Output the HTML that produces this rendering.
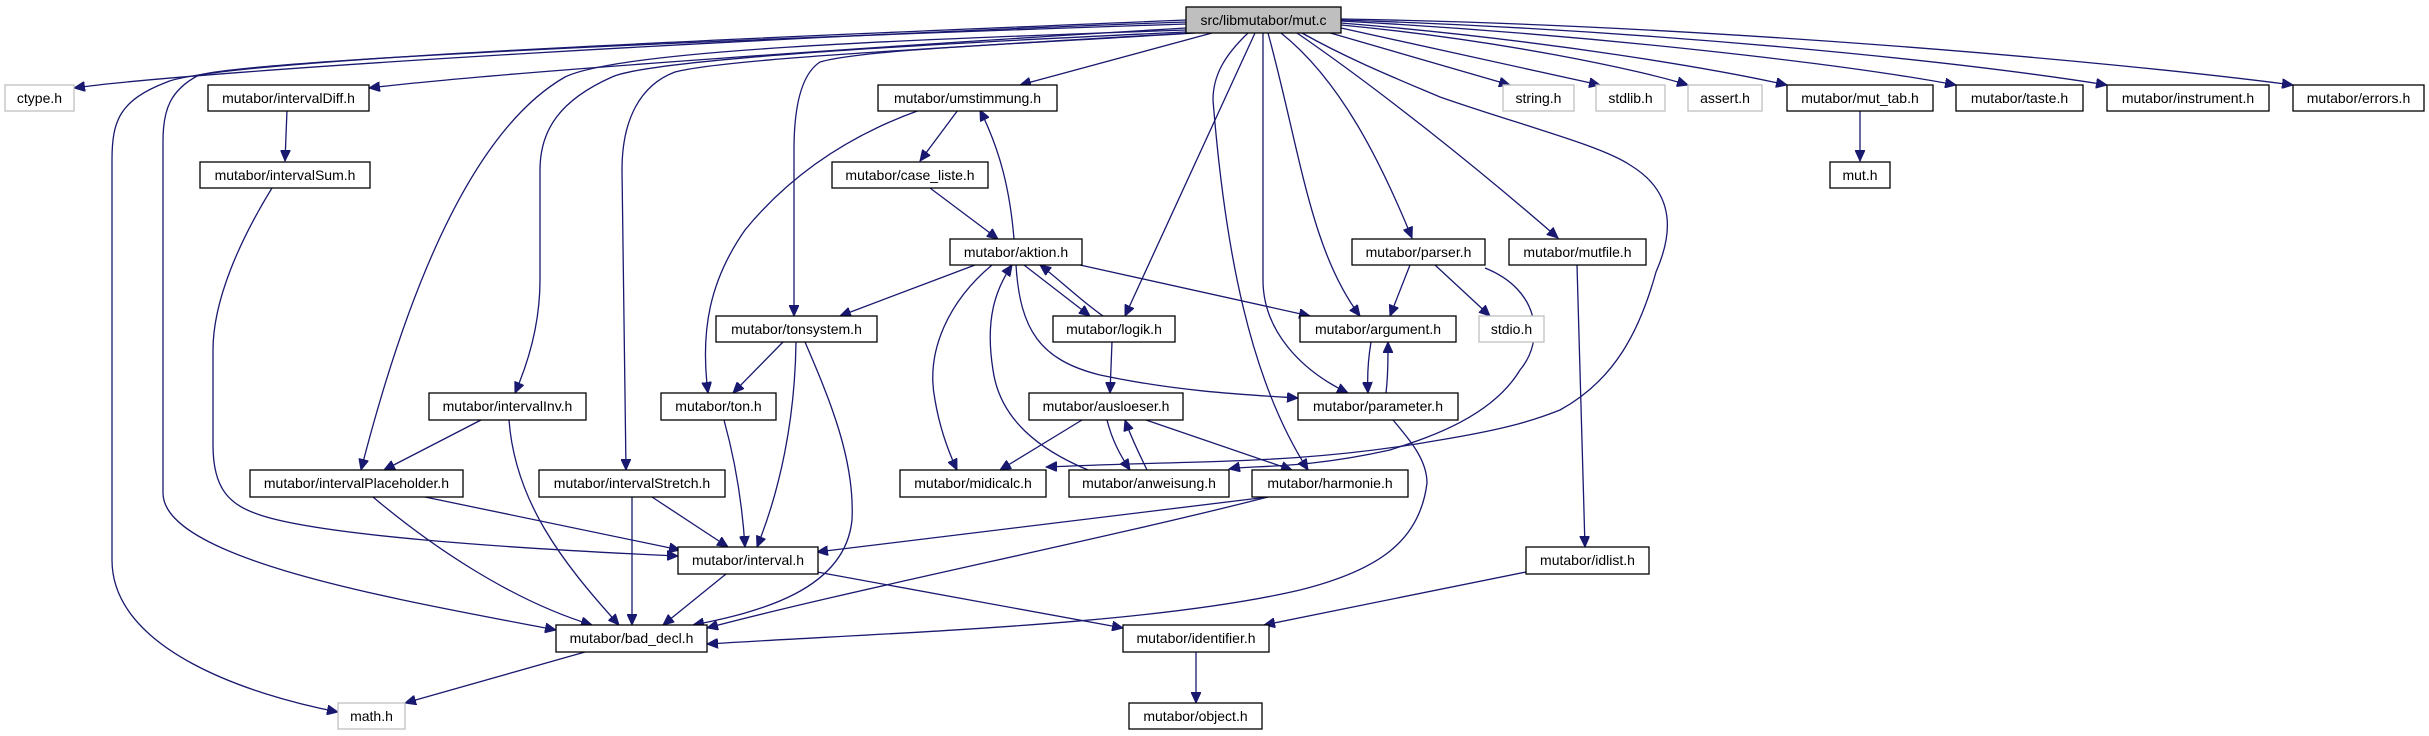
<!DOCTYPE html>
<html><head><meta charset="utf-8"><style>
html,body{margin:0;padding:0;background:#fff;}
svg{display:block;}
text{font-family:"Liberation Sans",sans-serif;font-size:14px;fill:#000;}
.e{fill:none;stroke:#191970;stroke-width:1.3;}
.n{fill:#fff;stroke:#000;stroke-width:1.3;}
.g{fill:#fff;stroke:#bfbfbf;stroke-width:1.3;}
</style></head><body>
<svg width="2429" height="736" viewBox="0 0 2429 736" xmlns="http://www.w3.org/2000/svg">
<defs><marker id="a" markerWidth="12" markerHeight="10" refX="11" refY="5" orient="auto" markerUnits="userSpaceOnUse"><path d="M0,0 L11,5 L0,10 z" fill="#191970" stroke="#191970"/></marker></defs>
<g marker-end="url(#a)">
<path class="e" d="M1186,22 C800,35 200,70 74,88"/>
<path class="e" d="M1186,28 C900,45 500,72 369,88"/>
<path class="e" d="M1186,20 C700,40 220,60 167,82 C120,100 112,120 112,160 L112,560 C112,650 250,695 338,712"/>
<path class="e" d="M1186,24 C700,40 260,60 199,75 C170,90 163,110 163,141 L163,493 C163,560 400,600 556,630"/>
<path class="e" d="M1186,30 C900,40 620,50 565,77 C490,120 420,240 361,470"/>
<path class="e" d="M1186,32 C900,45 650,60 612,77 C560,100 540,130 540,170 L540,280 C540,330 525,370 515,393"/>
<path class="e" d="M1190,33 C900,50 720,60 675,72 C640,85 622,120 622,170 L626,470"/>
<path class="e" d="M1195,33 C1000,45 860,50 820,62 C800,75 794,110 794,150 L794,316"/>
<path class="e" d="M1212,33 L1020,85"/>
<path class="e" d="M1255,33 L1125,316"/>
<path class="e" d="M1248,33 C1225,55 1213,75 1213,100 C1225,250 1250,380 1308,470"/>
<path class="e" d="M1263,33 L1263,280 C1263,330 1300,370 1348,393"/>
<path class="e" d="M1268,33 C1300,150 1310,250 1360,316"/>
<path class="e" d="M1281,33 C1340,80 1380,160 1412,238"/>
<path class="e" d="M1297,33 C1380,90 1480,170 1558,238"/>
<path class="e" d="M1302,33 C1350,60 1400,80 1440,97 C1520,125 1600,145 1630,165 C1680,195 1670,240 1656,272 C1640,330 1615,380 1560,410 C1530,422 1500,430 1440,440 C1300,465 1200,460 1046,467"/>
<path class="e" d="M1485,268 C1540,290 1545,340 1520,370 C1490,420 1420,440 1390,450 C1300,470 1250,465 1229,469"/>
<path class="e" d="M1320,30 L1510,85"/>
<path class="e" d="M1341,28 L1600,85"/>
<path class="e" d="M1341,25 C1500,40 1640,70 1688,85"/>
<path class="e" d="M1341,23 C1550,40 1720,70 1787,85"/>
<path class="e" d="M1341,21 C1600,35 1850,65 1956,85"/>
<path class="e" d="M1341,20 C1650,30 1950,60 2107,85"/>
<path class="e" d="M1341,19 C1700,25 2100,60 2293,85"/>
<path class="e" d="M287,110 L285,161"/>
<path class="e" d="M272,188 C240,240 213,300 213,350 L213,445 C213,490 230,505 260,515 C320,535 500,548 678,556"/>
<path class="e" d="M481,420 L384,470"/>
<path class="e" d="M509,420 C515,500 560,560 619,625"/>
<path class="e" d="M373,497 C430,545 510,600 592,625"/>
<path class="e" d="M425,497 L680,550"/>
<path class="e" d="M632,497 L632,625"/>
<path class="e" d="M652,497 L728,547"/>
<path class="e" d="M724,420 C735,460 742,500 745,547"/>
<path class="e" d="M783,342 L733,393"/>
<path class="e" d="M796,342 C795,420 780,490 757,547"/>
<path class="e" d="M805,342 C830,400 855,460 852,520 C845,590 760,612 693,625"/>
<path class="e" d="M726,574 L663,625"/>
<path class="e" d="M817,572 L1123,628"/>
<path class="e" d="M585,652 L405,703"/>
<path class="e" d="M920,110 C850,135 790,175 745,230 C710,280 700,330 708,393"/>
<path class="e" d="M958,110 L920,161"/>
<path class="e" d="M930,188 L998,239"/>
<path class="e" d="M1014,239 C1010,190 1000,150 980,110"/>
<path class="e" d="M975,265 L840,316"/>
<path class="e" d="M992,265 C950,300 925,350 935,400 C940,430 950,455 957,470"/>
<path class="e" d="M1024,265 L1090,316"/>
<path class="e" d="M1103,316 C1080,300 1060,280 1040,265"/>
<path class="e" d="M1080,265 L1310,316"/>
<path class="e" d="M1016,265 C1020,330 1040,360 1100,375 C1180,392 1250,395 1298,398"/>
<path class="e" d="M1088,470 C1040,450 1000,420 993,370 C985,320 995,290 1012,265"/>
<path class="e" d="M1112,342 L1110,393"/>
<path class="e" d="M1082,420 L1000,470"/>
<path class="e" d="M1107,420 C1112,440 1120,455 1130,470"/>
<path class="e" d="M1147,470 C1140,455 1132,440 1125,420"/>
<path class="e" d="M1146,420 L1292,470"/>
<path class="e" d="M1268,497 L817,552"/>
<path class="e" d="M1268,497 C1100,540 850,590 707,628"/>
<path class="e" d="M1393,420 C1410,440 1427,460 1427,483 C1420,540 1380,570 1300,590 C1150,625 900,632 707,644"/>
<path class="e" d="M1410,265 L1390,316"/>
<path class="e" d="M1435,265 L1490,316"/>
<path class="e" d="M1371,342 C1368,360 1367,375 1368,393"/>
<path class="e" d="M1386,393 C1388,375 1388,360 1388,342"/>
<path class="e" d="M1860,110 L1860,161"/>
<path class="e" d="M1577,265 L1585,547"/>
<path class="e" d="M1526,572 L1264,625"/>
<path class="e" d="M1196,652 L1196,703"/>
</g>
<g text-anchor="middle">
<rect x="1186" y="7" width="155" height="26" fill="#bfbfbf" stroke="#000" stroke-width="1.3"/><text x="1263.5" y="25">src/libmutabor/mut.c</text>
<rect class="g" x="5" y="85" width="69" height="26"/><text x="39.5" y="103">ctype.h</text>
<rect class="n" x="208" y="85" width="161" height="26"/><text x="288.5" y="103">mutabor/intervalDiff.h</text>
<rect class="n" x="878" y="85" width="179" height="26"/><text x="967.5" y="103">mutabor/umstimmung.h</text>
<rect class="g" x="1503" y="85" width="71" height="26"/><text x="1538.5" y="103">string.h</text>
<rect class="g" x="1596" y="85" width="69" height="26"/><text x="1630.5" y="103">stdlib.h</text>
<rect class="g" x="1688" y="85" width="74" height="26"/><text x="1725" y="103">assert.h</text>
<rect class="n" x="1787" y="85" width="146" height="26"/><text x="1860" y="103">mutabor/mut_tab.h</text>
<rect class="n" x="1956" y="85" width="127" height="26"/><text x="2019.5" y="103">mutabor/taste.h</text>
<rect class="n" x="2107" y="85" width="162" height="26"/><text x="2188" y="103">mutabor/instrument.h</text>
<rect class="n" x="2293" y="85" width="131" height="26"/><text x="2358.5" y="103">mutabor/errors.h</text>
<rect class="n" x="200" y="162" width="170" height="26"/><text x="285" y="180">mutabor/intervalSum.h</text>
<rect class="n" x="832" y="162" width="156" height="26"/><text x="910" y="180">mutabor/case_liste.h</text>
<rect class="n" x="1830" y="162" width="60" height="26"/><text x="1860" y="180">mut.h</text>
<rect class="n" x="950" y="239" width="132" height="26"/><text x="1016" y="257">mutabor/aktion.h</text>
<rect class="n" x="1352" y="239" width="133" height="26"/><text x="1418.5" y="257">mutabor/parser.h</text>
<rect class="n" x="1509" y="239" width="137" height="26"/><text x="1577.5" y="257">mutabor/mutfile.h</text>
<rect class="n" x="716" y="316" width="161" height="26"/><text x="796.5" y="334">mutabor/tonsystem.h</text>
<rect class="n" x="1053" y="316" width="122" height="26"/><text x="1114" y="334">mutabor/logik.h</text>
<rect class="n" x="1300" y="316" width="156" height="26"/><text x="1378" y="334">mutabor/argument.h</text>
<rect class="g" x="1479" y="316" width="65" height="26"/><text x="1511.5" y="334">stdio.h</text>
<rect class="n" x="429" y="393" width="157" height="27"/><text x="507.5" y="411">mutabor/intervalInv.h</text>
<rect class="n" x="661" y="393" width="115" height="27"/><text x="718.5" y="411">mutabor/ton.h</text>
<rect class="n" x="1029" y="393" width="154" height="27"/><text x="1106" y="411">mutabor/ausloeser.h</text>
<rect class="n" x="1298" y="393" width="160" height="27"/><text x="1378" y="411">mutabor/parameter.h</text>
<rect class="n" x="250" y="470" width="213" height="27"/><text x="356.5" y="488">mutabor/intervalPlaceholder.h</text>
<rect class="n" x="539" y="470" width="186" height="27"/><text x="632" y="488">mutabor/intervalStretch.h</text>
<rect class="n" x="900" y="470" width="146" height="27"/><text x="973" y="488">mutabor/midicalc.h</text>
<rect class="n" x="1069" y="470" width="160" height="27"/><text x="1149" y="488">mutabor/anweisung.h</text>
<rect class="n" x="1252" y="470" width="156" height="27"/><text x="1330" y="488">mutabor/harmonie.h</text>
<rect class="n" x="678" y="547" width="140" height="27"/><text x="748" y="565">mutabor/interval.h</text>
<rect class="n" x="1526" y="547" width="123" height="27"/><text x="1587.5" y="565">mutabor/idlist.h</text>
<rect class="n" x="556" y="625" width="151" height="27"/><text x="631.5" y="643">mutabor/bad_decl.h</text>
<rect class="n" x="1123" y="625" width="146" height="27"/><text x="1196" y="643">mutabor/identifier.h</text>
<rect class="g" x="338" y="703" width="67" height="26"/><text x="371.5" y="721">math.h</text>
<rect class="n" x="1129" y="703" width="133" height="26"/><text x="1195.5" y="721">mutabor/object.h</text>
</g>
</svg>
</body></html>
